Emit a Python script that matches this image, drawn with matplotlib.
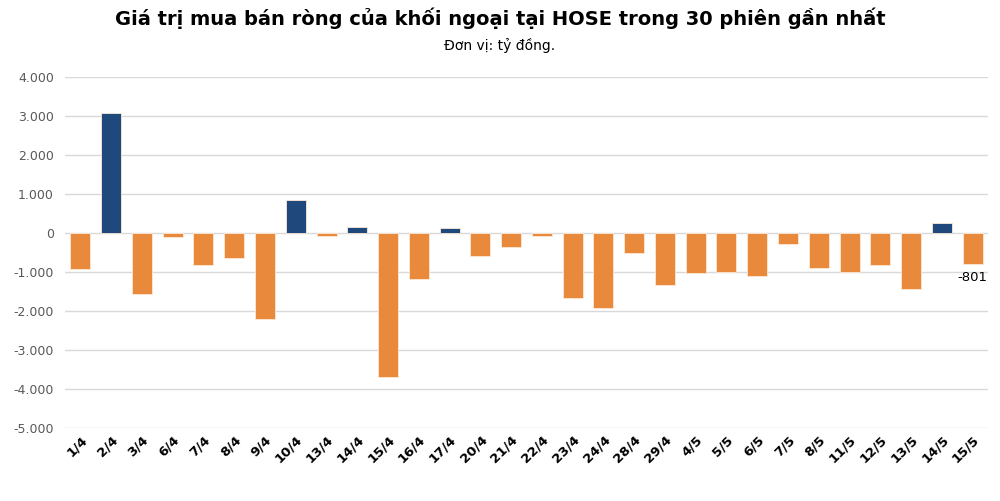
import numpy as np
import matplotlib.pyplot as plt
from matplotlib.ticker import FuncFormatter

# ----------------- Datos (tỷ đồng) -----------------
sessions = ["1/4", "2/4", "3/4", "6/4", "7/4", "8/4", "9/4", "10/4", "13/4", "14/4",
            "15/4", "16/4", "17/4", "20/4", "21/4", "22/4", "23/4", "24/4", "28/4", "29/4",
            "4/5", "5/5", "6/5", "7/5", "8/5", "11/5", "12/5", "13/5", "14/5", "15/5"]
net_values = [-920, 3070, -1570, -110, -830, -650, -2215, 830, -85, 150,
              -3710, -1190, 120, -605, -370, -85, -1665, -1940, -520, -1335,
              -1035, -1000, -1110, -300, -915, -1015, -820, -1440, 260, -801]
yticks = [4000, 3000, 2000, 1000, 0, -1000, -2000, -3000, -4000, -5000]

BLUE = "#1F497D"
ORANGE = "#E8893C"


def vn_thousands(v, pos=None):
    s = f"{abs(int(v)):,}".replace(",", ".")
    return ("-" + s) if v < 0 else s


fig = plt.figure(figsize=(10, 5.01), dpi=100)
ax = fig.add_axes([0.065, 0.1467, 0.923, 0.6996])

x = np.arange(len(sessions))
colors = [BLUE if v >= 0 else ORANGE for v in net_values]
ax.bar(x, net_values, width=0.65, color=colors, edgecolor="#FCE9D6", linewidth=0.6, zorder=3)

ax.set_xlim(-0.5, len(sessions) - 0.5)
ax.set_ylim(-5000, 4000)
ax.set_yticks(yticks)
ax.yaxis.set_major_formatter(FuncFormatter(vn_thousands))
ax.grid(axis="y", color="#D9D9D9", linewidth=1.0, zorder=0)
for s in ax.spines.values():
    s.set_visible(False)
ax.tick_params(axis="y", length=0, labelsize=9, labelcolor="#595959", pad=8)
ax.tick_params(axis="x", length=0, pad=4)

ax.set_xticks(x)
ax.set_xticklabels(sessions, rotation=45, ha="right", rotation_mode="anchor",
                   fontsize=9.5, fontweight="bold", color="black")

# nhãn giá trị phiên cuối
ax.annotate(vn_thousands(net_values[-1]), xy=(x[-1], net_values[-1]),
            xytext=(0, -5), textcoords="offset points", ha="center", va="top",
            fontsize=9.5, color="black")

fig.text(0.5, 0.963, "Giá trị mua bán ròng của khối ngoại tại HOSE trong 30 phiên gần nhất",
         ha="center", va="center", fontsize=14, fontweight="bold", color="black")
fig.text(0.5, 0.91, "Đơn vị: tỷ đồng.", ha="center", va="center", fontsize=10, color="black")

plt.savefig("out.png", dpi=100)
plt.close()
